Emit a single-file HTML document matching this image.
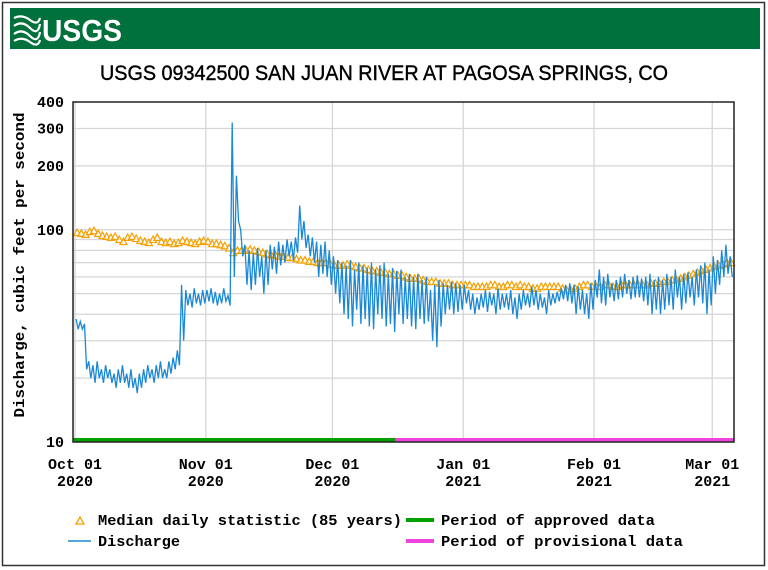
<!DOCTYPE html>
<html><head><meta charset="utf-8"><style>
body{margin:0;background:#fff;}
svg{display:block;font-family:"Liberation Mono",monospace;}
</style></head><body>
<svg id="chart" width="768" height="570" viewBox="0 0 768 570">
<rect x="2.5" y="2.5" width="762" height="563" fill="#fff" stroke="#333" stroke-width="1.5"/>
<g>
<rect x="10" y="8" width="750" height="41" fill="#00703c"/>
<g stroke="#fff" stroke-width="2.2" fill="none">
<path d="M14 18 Q22 14 30 20 T40 18"/><path d="M14 26 Q22 20 30 28 T40 24"/><path d="M14 34 Q22 28 30 36 T40 32"/><path d="M14 41 Q22 36 30 42 T40 40"/>
</g>
<text x="42" y="41" fill="#fff" font-family="Liberation Sans,sans-serif" font-weight="bold" font-size="31" textLength="80" lengthAdjust="spacingAndGlyphs">USGS</text>
</g>
<text x="384" y="80" text-anchor="middle" font-family="Liberation Sans,sans-serif" font-size="21" stroke="#000" stroke-width="0.4" textLength="568" lengthAdjust="spacingAndGlyphs" fill="#000">USGS 09342500 SAN JUAN RIVER AT PAGOSA SPRINGS, CO</text>
<g id="grid"></g>
<g id="series"></g>
<g id="axes"></g>
<text transform="translate(24,265) rotate(-90)" text-anchor="middle" font-size="15" font-weight="bold" textLength="305" lengthAdjust="spacingAndGlyphs">Discharge, cubic feet per second</text>
<g font-size="15" font-weight="bold">
<polygon points="76,524 80,517 84,524" fill="none" stroke="#f5a000" stroke-width="1.3"/>
<text x="98" y="525" textLength="304" lengthAdjust="spacingAndGlyphs">Median daily statistic (85 years)</text>
<line x1="68" y1="541" x2="91" y2="541" stroke="#1a88d6" stroke-width="1.5"/>
<text x="98" y="546" textLength="82" lengthAdjust="spacingAndGlyphs">Discharge</text>
<line x1="406" y1="520" x2="434" y2="520" stroke="#00a000" stroke-width="4"/>
<text x="441" y="525" textLength="214" lengthAdjust="spacingAndGlyphs">Period of approved data</text>
<line x1="406" y1="541" x2="434" y2="541" stroke="#ee44dd" stroke-width="4"/>
<text x="441" y="546" textLength="242" lengthAdjust="spacingAndGlyphs">Period of provisional data</text>
</g>
</svg>
<script>
const yTicks=[10,100,200,300,400];
const yGrid=[20,30,40,50,60,70,80,90,100,200,300];
const xTickDays=[0,31,61,92,123,151];
const xTickMonths=["Oct 01","Nov 01","Dec 01","Jan 01","Feb 01","Mar 01"];
const xTickYears=["2020","2020","2020","2021","2021","2021"];
const approvedEndDay=76;
const dischargeMax=[38,37,36,24,23,24,22,23,22,21,22,23,21,22,20,21,22,23,22,23,24,22,24,25,27,55,52,50,53,50,52,
52,53,51,50,53,49,320,180,100,85,80,78,82,75,80,85,83,88,85,90,88,92,130,110,95,92,88,85,88,80,
75,72,70,68,72,65,70,68,66,70,65,68,70,62,66,64,65,60,62,60,62,58,60,52,55,58,56,55,57,56,55,
55,52,50,48,50,52,51,50,53,50,50,52,48,50,52,50,54,52,50,48,52,50,51,53,55,56,55,54,52,50,56,
58,65,60,62,56,58,60,62,58,60,61,59,60,62,58,60,58,62,60,65,60,62,63,60,65,68,70,65,
75,72,80,85,75];
const dischargeMin=[34,34,22,20,19,20,19,20,19,18,19,19,18,18,17,18,19,20,19,20,20,20,21,22,23,30,44,43,45,44,45,
46,45,44,45,46,44,60,110,75,55,52,55,60,50,55,65,62,68,70,75,72,78,90,82,75,70,60,62,60,55,
50,45,40,38,35,42,36,38,35,34,40,38,35,36,33,40,36,38,35,34,38,36,37,30,28,35,40,42,40,41,42,
45,42,40,42,43,41,44,40,42,43,42,40,38,42,44,43,44,42,43,40,44,45,46,47,46,45,40,42,40,38,42,
48,45,44,48,46,47,48,50,47,48,48,46,44,40,42,40,42,44,42,48,42,45,48,44,48,45,40,44,
50,55,60,62,60];
const medianDaily=[97,96,95,98,99,96,94,93,92,93,90,88,92,93,91,89,88,87,90,92,88,87,88,86,87,89,88,87,86,88,89,
88,86,86,85,84,82,78,80,80,80,81,80,79,78,77,76,76,75,75,74,74,73,72,72,71,71,70,70,70,69,
68,68,68,69,68,67,66,66,65,64,64,63,63,62,62,61,61,60,59,59,59,58,57,57,57,56,56,56,55,55,55,
55,55,54,54,54,54,55,55,54,54,55,55,54,55,54,54,53,53,54,54,54,54,54,53,52,52,53,54,55,55,54,
54,54,55,55,54,54,55,55,55,55,55,55,55,56,56,56,57,57,58,58,59,60,61,62,63,64,65,66,
67,68,69,70,70];

const NS="http://www.w3.org/2000/svg";
const L=73,R=734,T=102,B=442,X0=75,PXD=4.22;
const xs=d=>X0+d*PXD;
const ys=v=>B-(B-T)*Math.log10(v/10)/Math.log10(40);
function mk(tag,attrs,parent){const e=document.createElementNS(NS,tag);for(const k in attrs)e.setAttribute(k,attrs[k]);parent.appendChild(e);return e;}
const grid=document.getElementById('grid'),ser=document.getElementById('series'),ax=document.getElementById('axes');
mk('rect',{x:L,y:T,width:R-L,height:B-T,fill:'#fff'},grid);
yGrid.forEach(v=>{const l=mk('line',{x1:L,x2:R,y1:ys(v),y2:ys(v),stroke:'#d6d6d6','stroke-width':1.3},grid);

});
xTickDays.forEach((d,i)=>{const l=mk('line',{x1:xs(d),x2:xs(d),y1:T,y2:B,stroke:'#d6d6d6','stroke-width':1.3},grid);


const t1=mk('text',{x:xs(d),y:469,'text-anchor':'middle','font-size':15,'font-weight':'bold'},ax);t1.textContent=xTickMonths[i];


const t2=mk('text',{x:xs(d),y:486,'text-anchor':'middle','font-size':15,'font-weight':'bold'},ax);t2.textContent=xTickYears[i];

});
yTicks.forEach(v=>{const t=mk('text',{x:64,y:ys(v)+5,'text-anchor':'end','font-size':15,'font-weight':'bold'},ax);t.textContent=v;

});
medianDaily.forEach((v,d)=>{const x=xs(d+0.5),y=ys(v);const p=mk('polygon',{points:`${x-3.5},${y+3} ${x},${y-3.5} ${x+3.5},${y+3}`,fill:'#fff','fill-opacity':0.6,stroke:'#f5a000','stroke-width':1.2},ser);

});
let pts=[];dischargeMax.forEach((mx,d)=>{pts.push(xs(d+0.25)+','+ys(mx));pts.push(xs(d+0.75)+','+ys(dischargeMin[d]));});
const pl=mk('polyline',{points:pts.join(' '),fill:'none',stroke:'#1a88d6','stroke-width':1.3},ser);


const ab=mk('line',{x1:L,x2:xs(approvedEndDay),y1:B-2,y2:B-2,stroke:'#00a000','stroke-width':4},ax);


const pb=mk('line',{x1:xs(approvedEndDay),x2:R,y1:B-2,y2:B-2,stroke:'#ee44dd','stroke-width':4},ax);


const fr=mk('rect',{x:L,y:T,width:R-L,height:B-T,fill:'none',stroke:'#222','stroke-width':1.5},ax);


</script>
</body></html>
